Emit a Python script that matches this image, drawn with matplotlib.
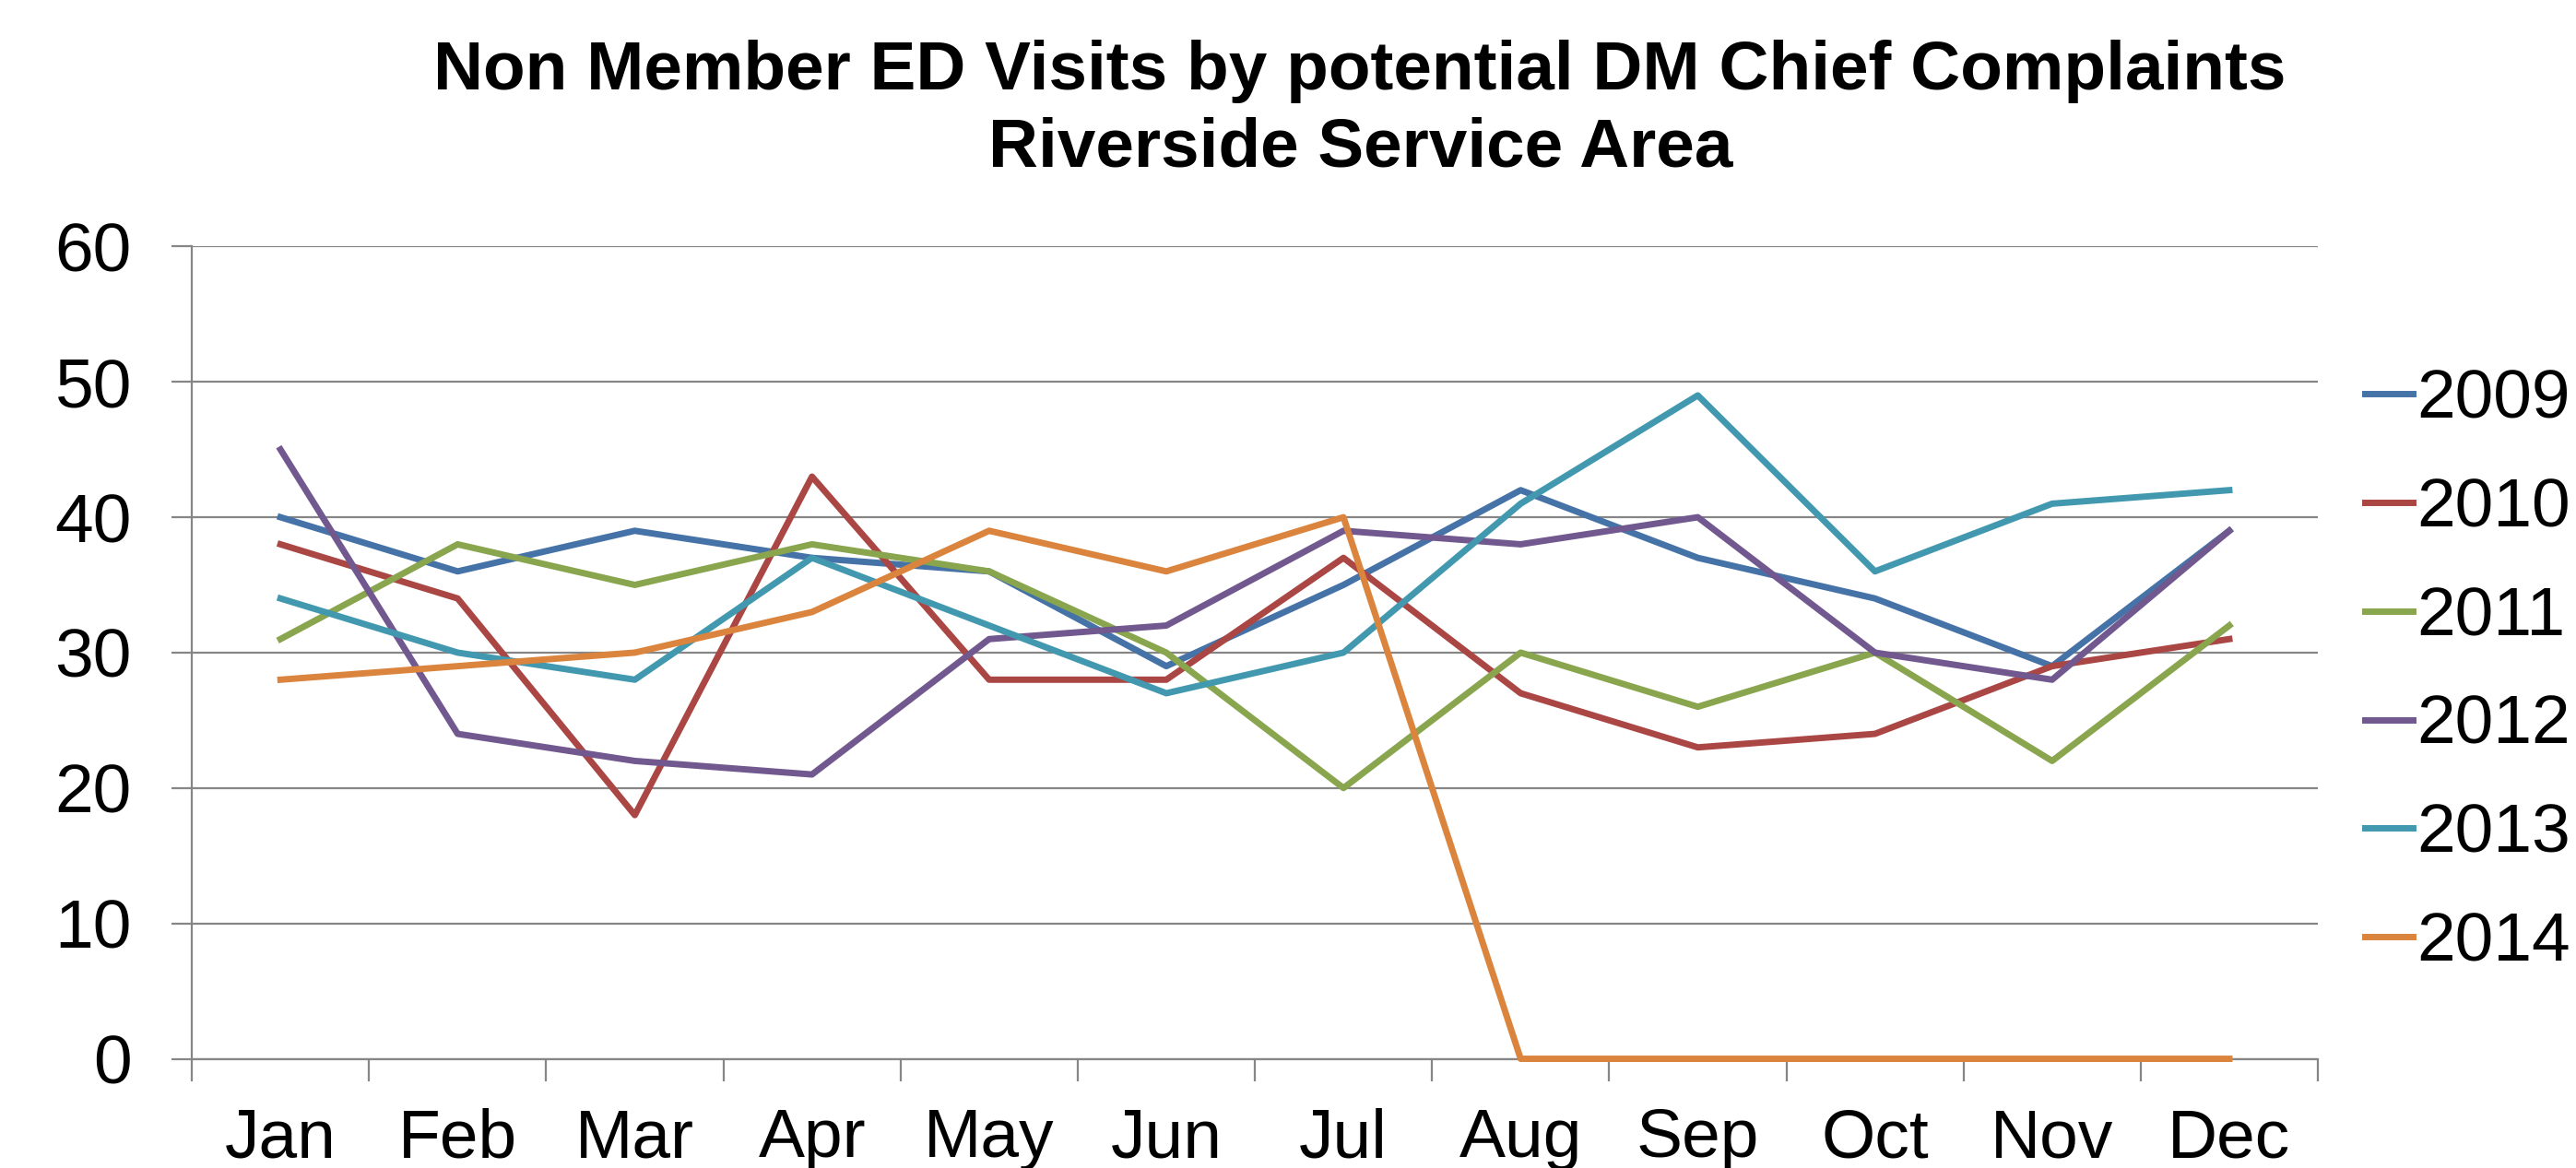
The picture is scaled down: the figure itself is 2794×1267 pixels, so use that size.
import numpy as np
import matplotlib.pyplot as plt

months = ['Jan', 'Feb', 'Mar', 'Apr', 'May', 'Jun',
          'Jul', 'Aug', 'Sep', 'Oct', 'Nov', 'Dec']

y2009 = [40, 36, 39, 37, 36, 29, 35, 42, 37, 34, 29, 39]
y2010 = [38, 34, 18, 43, 28, 28, 37, 27, 23, 24, 29, 31]
y2011 = [31, 38, 35, 38, 36, 30, 20, 30, 26, 30, 22, 32]
y2012 = [45, 24, 22, 21, 31, 32, 39, 38, 40, 30, 28, 39]
y2013 = [34, 30, 28, 37, 32, 27, 30, 41, 49, 36, 41, 42]
y2014 = [28, 29, 30, 33, 39, 36, 40, 0, 0, 0, 0, 0]

years = ['2009', '2010', '2011', '2012', '2013', '2014']
series = [y2009, y2010, y2011, y2012, y2013, y2014]
colors = ['#4572A7', '#AA4643', '#89A54E', '#71588F', '#4198AF', '#DB843D']

plt.rcParams['font.family'] = ['Liberation Sans', 'DejaVu Sans']
grid_c = '#868686'

fig = plt.figure(figsize=(27.94, 12.67), dpi=100)
ax = fig.add_axes([0.0745, 0.0935, 0.8253, 0.6955])

x = np.arange(len(months))
for ys, lab, c in zip(series, years, colors):
    ax.plot(x, ys, color=c, lw=5, label=lab, clip_on=False, zorder=3)

ax.set_xlim(-0.5, len(months) - 0.5)
ax.set_ylim(0, 60)
ax.set_yticks(range(0, 61, 10))
ax.yaxis.grid(True, color=grid_c, lw=1.6)
ax.set_axisbelow(True)

ax.set_xticks(x)
ax.set_xticklabels(months)
ax.set_xticks(np.arange(-0.5, len(months)), minor=True)
ax.tick_params(axis='x', which='major', length=0, pad=38, labelsize=54)
ax.tick_params(axis='x', which='minor', length=17, width=1.6, color=grid_c)
ax.tick_params(axis='y', length=16, width=1.6, color=grid_c, pad=31, labelsize=54)

for s in ['top', 'right']:
    ax.spines[s].set_visible(False)
for s in ['left', 'bottom']:
    ax.spines[s].set_color(grid_c)
    ax.spines[s].set_linewidth(1.6)

fig.text(0.528, 0.906, 'Non Member ED Visits by potential DM Chief Complaints\nRiverside Service Area',
         ha='center', va='center', fontsize=53.8, fontweight='bold', linespacing=1.26)

fig.legend(loc='center left', bbox_to_anchor=(0.918, 0.425), frameon=False,
           fontsize=54, handlelength=0.7, handletextpad=0.05, labelspacing=0.65,
           borderpad=0, borderaxespad=0)

fig.savefig('out.png', dpi=100)
